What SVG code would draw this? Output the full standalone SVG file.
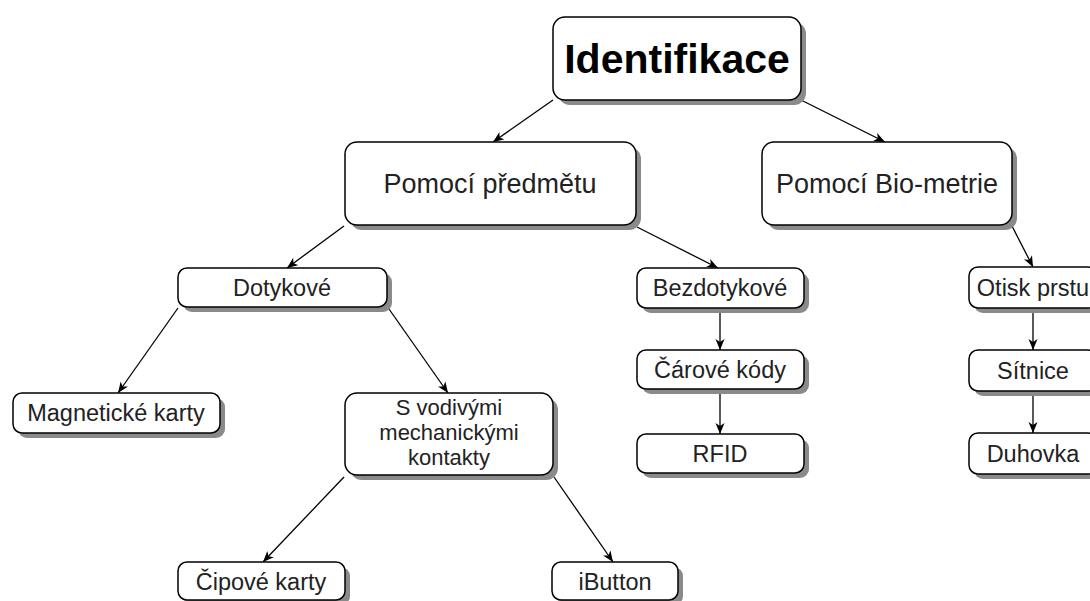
<svg xmlns="http://www.w3.org/2000/svg" width="1090" height="601" viewBox="0 0 1090 601">
<defs>
<style>
.box{fill:#fff;stroke:#000;stroke-width:1.5}
.sh{fill:#8a8a8a}
.t{font-family:"Liberation Sans",Arial,sans-serif;fill:#222;text-anchor:middle}
.big{font-size:41px;font-weight:bold;fill:#000}
.mid{font-size:27px}
.sm{font-size:23.5px}
.ml{font-size:22px}
.c{stroke:#000;stroke-width:1.3;fill:none;marker-end:url(#ah)}
</style>
<marker id="ah" markerWidth="12" markerHeight="10" refX="11" refY="4.5" orient="auto" markerUnits="userSpaceOnUse">
<path d="M0,0 L11,4.5 L0,9 L3,4.5 z" fill="#000"/>
</marker>
</defs>
<rect width="1090" height="601" fill="#fff"/>
<g id="connectors">
<line class="c" x1="553" y1="100" x2="493" y2="142"/>
<line class="c" x1="801" y1="100" x2="885" y2="142"/>
<line class="c" x1="344" y1="226" x2="287" y2="268"/>
<line class="c" x1="637" y1="227" x2="718" y2="268"/>
<line class="c" x1="1012" y1="226" x2="1033" y2="267"/>
<line class="c" x1="720" y1="308" x2="720" y2="350"/>
<line class="c" x1="720" y1="389" x2="720" y2="434"/>
<line class="c" x1="1033" y1="308" x2="1033" y2="350"/>
<line class="c" x1="1033" y1="391" x2="1033" y2="433"/>
<line class="c" x1="178" y1="308" x2="118" y2="393"/>
<line class="c" x1="389" y1="309" x2="448" y2="393"/>
<line class="c" x1="344" y1="477" x2="263" y2="562"/>
<line class="c" x1="554" y1="477" x2="613" y2="562"/>
</g>
<g id="identifikace">
<rect class="sh" x="558" y="22" width="248" height="83" rx="12"/>
<rect class="box" x="553" y="17" width="248" height="83" rx="12"/>
<text class="t big" x="677" y="73">Identifikace</text>
</g>
<g id="pomoci-predmetu">
<rect class="sh" x="350" y="147" width="291" height="83" rx="12"/>
<rect class="box" x="345" y="142" width="291" height="83" rx="12"/>
<text class="t mid" x="490" y="193">Pomocí předmětu</text>
</g>
<g id="pomoci-biometrie">
<rect class="sh" x="767" y="147" width="250" height="83" rx="12"/>
<rect class="box" x="762" y="142" width="250" height="83" rx="12"/>
<text class="t mid" x="887" y="193">Pomocí Bio-metrie</text>
</g>
<g id="dotykove">
<rect class="sh" x="183" y="273" width="209" height="39" rx="9"/>
<rect class="box" x="178" y="268" width="209" height="39" rx="9"/>
<text class="t sm" x="282" y="296">Dotykové</text>
</g>
<g id="bezdotykove">
<rect class="sh" x="642" y="273" width="167" height="40" rx="9"/>
<rect class="box" x="637" y="268" width="167" height="40" rx="9"/>
<text class="t sm" x="720" y="296">Bezdotykové</text>
</g>
<g id="carove-kody">
<rect class="sh" x="642" y="355" width="167" height="39" rx="9"/>
<rect class="box" x="637" y="350" width="167" height="39" rx="9"/>
<text class="t sm" x="720" y="378">Čárové kódy</text>
</g>
<g id="rfid">
<rect class="sh" x="642" y="439" width="167" height="39" rx="9"/>
<rect class="box" x="637" y="434" width="167" height="39" rx="9"/>
<text class="t sm" x="720" y="462">RFID</text>
</g>
<g id="otisk-prstu">
<rect class="sh" x="974" y="272" width="128" height="41" rx="9"/>
<rect class="box" x="969" y="267" width="128" height="41" rx="9"/>
<text class="t sm" x="1033" y="296">Otisk prstu</text>
</g>
<g id="sitnice">
<rect class="sh" x="974" y="355" width="128" height="41" rx="9"/>
<rect class="box" x="969" y="350" width="128" height="41" rx="9"/>
<text class="t sm" x="1033" y="379">Sítnice</text>
</g>
<g id="duhovka">
<rect class="sh" x="974" y="438" width="128" height="41" rx="9"/>
<rect class="box" x="969" y="433" width="128" height="41" rx="9"/>
<text class="t sm" x="1033" y="462">Duhovka</text>
</g>
<g id="magneticke-karty">
<rect class="sh" x="18" y="398" width="207" height="40" rx="9"/>
<rect class="box" x="13" y="393" width="207" height="40" rx="9"/>
<text class="t sm" x="116" y="421">Magnetické karty</text>
</g>
<g id="s-vodivymi">
<rect class="sh" x="350" y="398" width="208" height="82" rx="12"/>
<rect class="box" x="345" y="393" width="208" height="82" rx="12"/>
<text class="t ml" x="449" y="415">S vodivými</text>
<text class="t ml" x="449" y="440">mechanickými</text>
<text class="t ml" x="449" y="465">kontakty</text>
</g>
<g id="cipove-karty">
<rect class="sh" x="183" y="567" width="167" height="38" rx="9"/>
<rect class="box" x="178" y="562" width="167" height="38" rx="9"/>
<text class="t sm" x="261" y="590">Čipové karty</text>
</g>
<g id="ibutton">
<rect class="sh" x="557" y="567" width="126" height="38" rx="9"/>
<rect class="box" x="552" y="562" width="126" height="38" rx="9"/>
<text class="t sm" x="615" y="590">iButton</text>
</g>
</svg>
